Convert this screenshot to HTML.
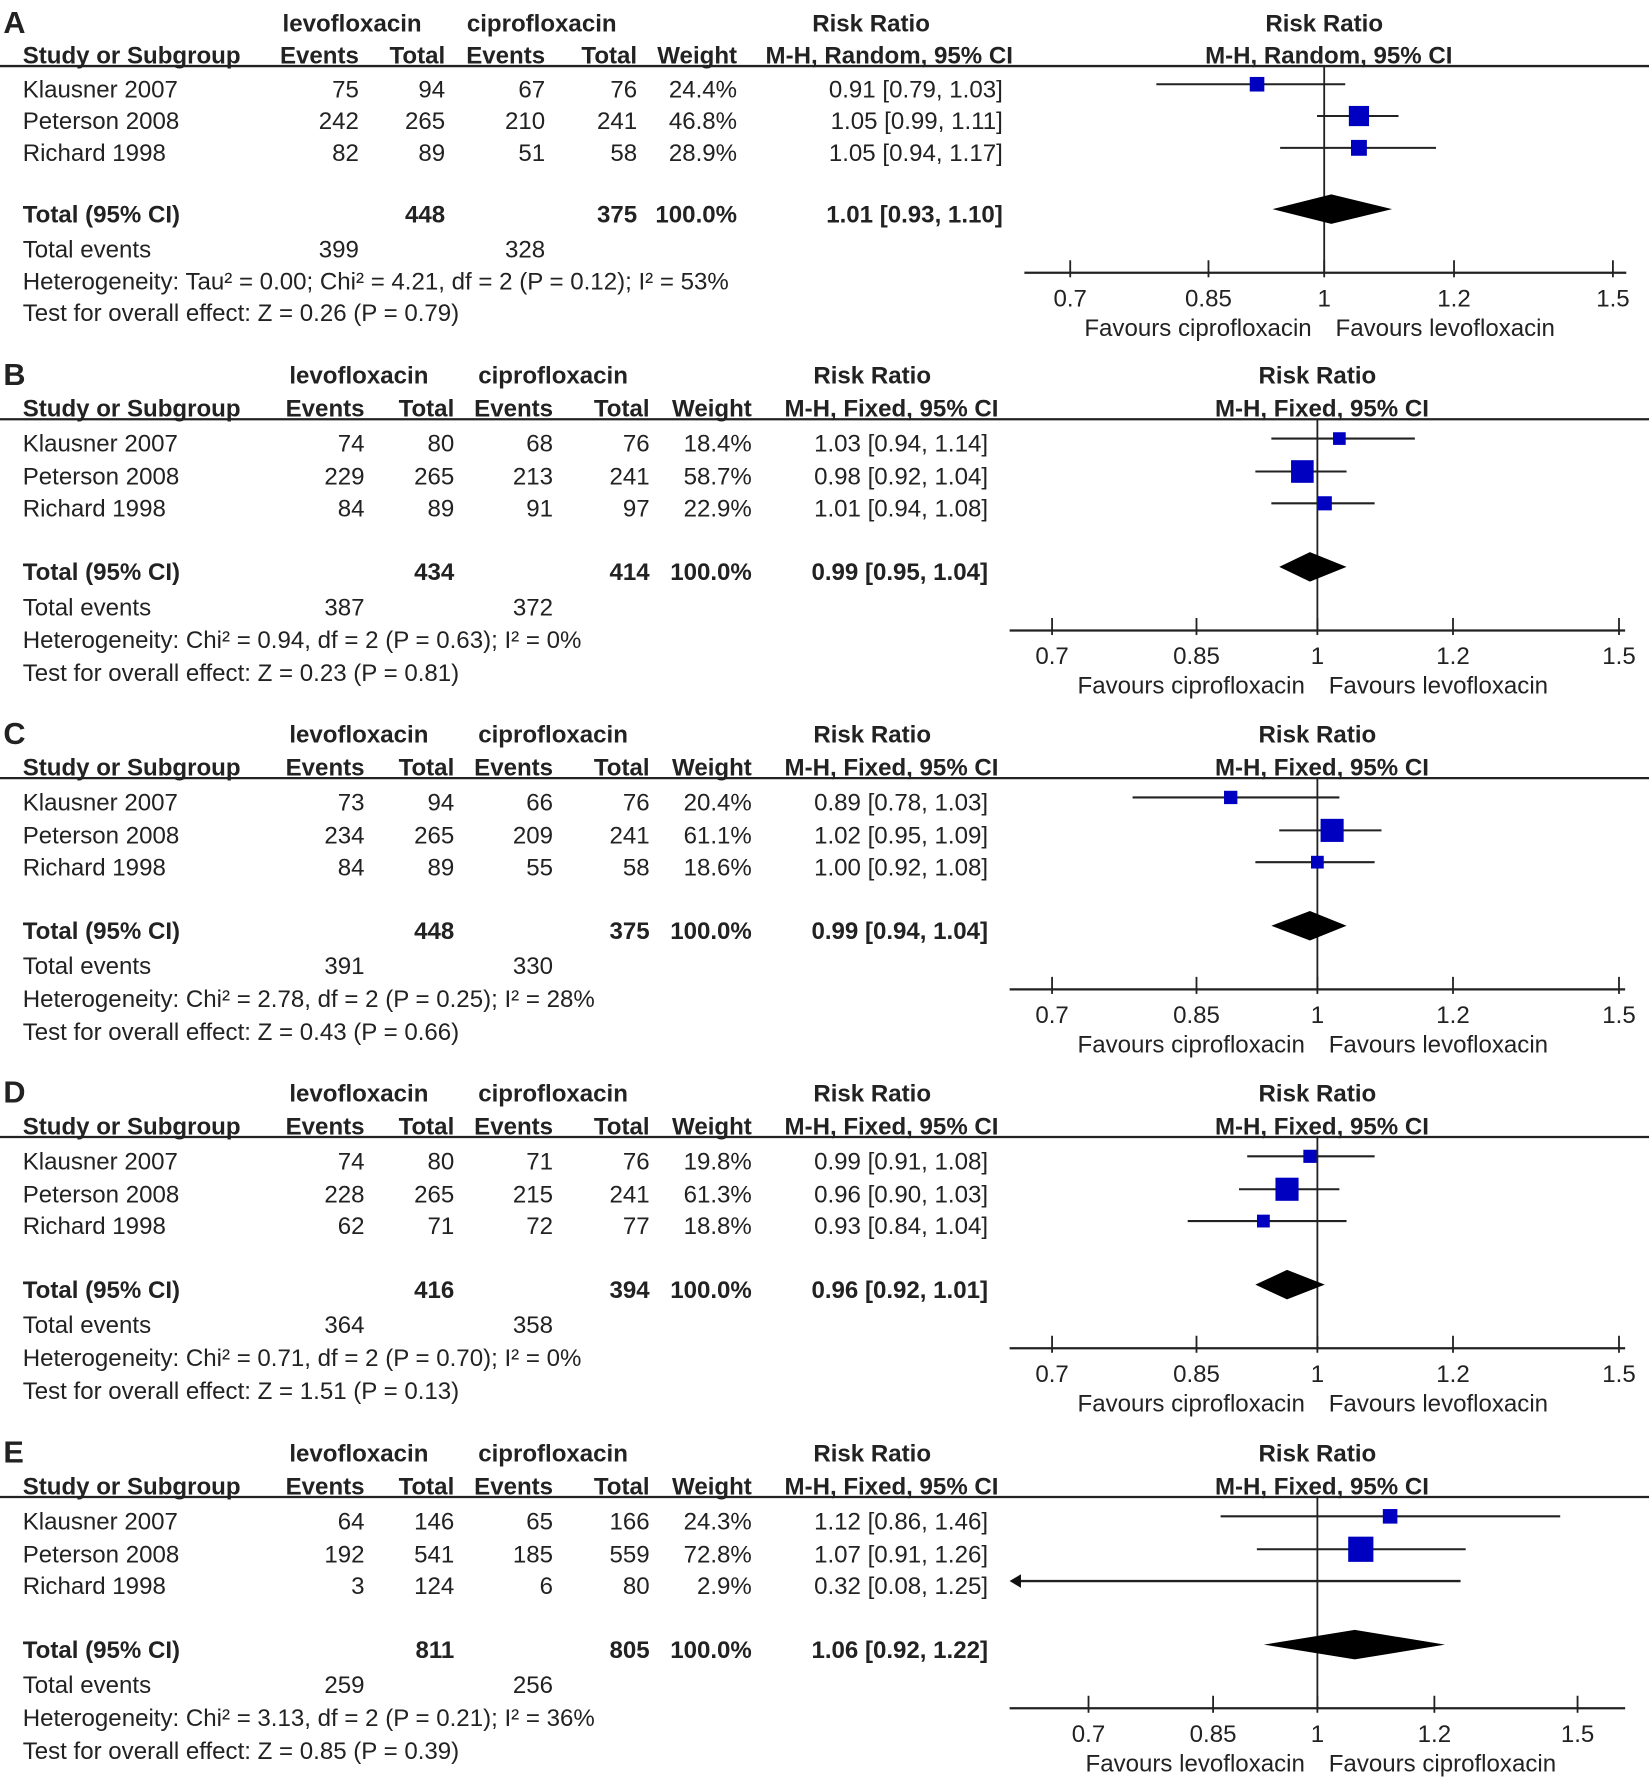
<!DOCTYPE html>
<html><head><meta charset="utf-8"><style>
html,body{margin:0;padding:0;background:#fff;}
svg{display:block;}
text{font-family:"Liberation Sans",Arial,sans-serif;font-size:21.2px;fill:#222;}
.b{font-weight:bold;}
</style></head><body>
<svg id="chart" width="1649" height="1780" viewBox="0 0 1452 1567" xmlns="http://www.w3.org/2000/svg"></svg>
<script>
// ---- data ----
const panelLetters = ["A","B","C","D","E"];
const panelMethods = ["M-H, Random, 95% CI","M-H, Fixed, 95% CI","M-H, Fixed, 95% CI","M-H, Fixed, 95% CI","M-H, Fixed, 95% CI"];
const studyNames = ["Klausner 2007","Peterson 2008","Richard 1998"];
const levoEvents = [[75,242,82],[74,229,84],[73,234,84],[74,228,62],[64,192,3]];
const levoTotals = [[94,265,89],[80,265,89],[94,265,89],[80,265,71],[146,541,124]];
const ciproEvents = [[67,210,51],[68,213,91],[66,209,55],[71,215,72],[65,185,6]];
const ciproTotals = [[76,241,58],[76,241,97],[76,241,58],[76,241,77],[166,559,80]];
const weights = [[24.4,46.8,28.9],[18.4,58.7,22.9],[20.4,61.1,18.6],[19.8,61.3,18.8],[24.3,72.8,2.9]];
const rr = [[0.91,1.05,1.05],[1.03,0.98,1.01],[0.89,1.02,1.00],[0.99,0.96,0.93],[1.12,1.07,0.32]];
const ciLo = [[0.79,0.99,0.94],[0.94,0.92,0.94],[0.78,0.95,0.92],[0.91,0.90,0.84],[0.86,0.91,0.08]];
const ciHi = [[1.03,1.11,1.17],[1.14,1.04,1.08],[1.03,1.09,1.08],[1.08,1.03,1.04],[1.46,1.26,1.25]];
const totalLevo = [448,434,448,416,811];
const totalCipro = [375,414,375,394,805];
const totalRR = [1.01,0.99,0.99,0.96,1.06];
const totalLo = [0.93,0.95,0.94,0.92,0.92];
const totalHi = [1.10,1.04,1.04,1.01,1.22];
const totalEvLevo = [399,387,391,364,259];
const totalEvCipro = [328,372,330,358,256];
const heterogeneity = [
 "Heterogeneity: Tau² = 0.00; Chi² = 4.21, df = 2 (P = 0.12); I² = 53%",
 "Heterogeneity: Chi² = 0.94, df = 2 (P = 0.63); I² = 0%",
 "Heterogeneity: Chi² = 2.78, df = 2 (P = 0.25); I² = 28%",
 "Heterogeneity: Chi² = 0.71, df = 2 (P = 0.70); I² = 0%",
 "Heterogeneity: Chi² = 3.13, df = 2 (P = 0.21); I² = 36%"];
const overall = [
 "Test for overall effect: Z = 0.26 (P = 0.79)",
 "Test for overall effect: Z = 0.23 (P = 0.81)",
 "Test for overall effect: Z = 0.43 (P = 0.66)",
 "Test for overall effect: Z = 1.51 (P = 0.13)",
 "Test for overall effect: Z = 0.85 (P = 0.39)"];
const tickValues = [0.7,0.85,1,1.2,1.5];
const tickLabels = ["0.7","0.85","1","1.2","1.5"];
const favLeft = ["Favours ciprofloxacin","Favours ciprofloxacin","Favours ciprofloxacin","Favours ciprofloxacin","Favours levofloxacin"];
const favRight = ["Favours levofloxacin","Favours levofloxacin","Favours levofloxacin","Favours levofloxacin","Favours ciprofloxacin"];

// ---- layout ----
const NS="http://www.w3.org/2000/svg";
const svg=document.getElementById('chart');
const fmt2=v=>v.toFixed(2);
function mk(tag,attrs,parent){const e=document.createElementNS(NS,tag);for(const k in attrs)e.setAttribute(k,attrs[k]);(parent||svg).appendChild(e);return e;}
function txt(parent,x,y,s,anchor,cls){const t=mk('text',{x:x,y:y,'text-anchor':anchor||'start','dominant-baseline':'central'},parent);if(cls)t.setAttribute('class',cls);t.textContent=s;return t;}

const layouts=[
 {top:21,cx:1166,sc:627,ax0:902,ax1:1432,cols:[316,392,480,561,649,883],ciHead:783,lev:310,cip:477,rr:767,rh:[0,28,58,86,114,168,199,227,255,219,242,268]},
 {top:331,cx:1160,sc:655,ax0:889,ax1:1431,cols:[321,400,487,572,662,870],ciHead:785,lev:316,cip:487,rr:768,rh:[0,29,60,89,117,173,204,233,262,224,247,273]},
 {top:647,cx:1160,sc:655,ax0:889,ax1:1431,cols:[321,400,487,572,662,870],ciHead:785,lev:316,cip:487,rr:768,rh:[0,29,60,89,117,173,204,233,262,224,247,273]},
 {top:963,cx:1160,sc:655,ax0:889,ax1:1431,cols:[321,400,487,572,662,870],ciHead:785,lev:316,cip:487,rr:768,rh:[0,29,60,89,117,173,204,233,262,224,247,273]},
 {top:1280,cx:1160,sc:565,ax0:889,ax1:1431,cols:[321,400,487,572,662,870],ciHead:785,lev:316,cip:487,rr:768,rh:[0,29,60,89,117,173,204,233,262,224,247,273]}
];

for(let p=0;p<5;p++){
 const L=layouts[p]; const T=L.top;
 const Y=i=>T+L.rh[i];
 const g=mk('g',{});
 
 
 const xs=v=>L.cx+Math.log(v)*L.sc;
 let t=txt(g,3,Y(0)-1,panelLetters[p],'start','b'); t.style.fontSize='27px';
  
 txt(g,L.lev,Y(0),'levofloxacin','middle','b');
 txt(g,L.cip,Y(0),'ciprofloxacin','middle','b');
 txt(g,L.rr,Y(0),'Risk Ratio','middle','b');
 t=txt(g,L.cx,Y(0),'Risk Ratio','middle','b');
  
 txt(g,20,Y(1),'Study or Subgroup','start','b');
 const hd=['Events','Total','Events','Total','Weight'];
 for(let c=0;c<5;c++) txt(g,L.cols[c],Y(1),hd[c],'end','b');
 txt(g,L.ciHead,Y(1),panelMethods[p],'middle','b');
 t=txt(g,L.cx+4,Y(1),panelMethods[p],'middle','b');
 mk('line',{x1:0,x2:1452,y1:Y(1)+9,y2:Y(1)+9,stroke:'#222','stroke-width':2},g);
 const axY=Y(9);
 const vl=mk('line',{x1:L.cx,x2:L.cx,y1:Y(1)+9,y2:axY,stroke:'#222','stroke-width':1.6},g);
  
 for(let i=0;i<3;i++){
  const y=Y(2+i);
  const row=mk('g',{},g);
   
  txt(row,20,y,studyNames[i]);
  txt(row,L.cols[0],y,String(levoEvents[p][i]),'end');
  txt(row,L.cols[1],y,String(levoTotals[p][i]),'end');
  txt(row,L.cols[2],y,String(ciproEvents[p][i]),'end');
  txt(row,L.cols[3],y,String(ciproTotals[p][i]),'end');
  txt(row,L.cols[4],y,weights[p][i].toFixed(1)+'%','end');
  txt(row,L.cols[5],y,fmt2(rr[p][i])+' ['+fmt2(ciLo[p][i])+', '+fmt2(ciHi[p][i])+']','end');
  const my=y-5;
  let x1=xs(ciLo[p][i]); const x2=xs(ciHi[p][i]);
  if(x1<L.ax0){
   x1=L.ax0+6;
   const ln=mk('line',{x1:x1,x2:x2,y1:my,y2:my,stroke:'#222','stroke-width':2},row);
    
   const ah=mk('polygon',{points:(L.ax0)+','+my+' '+(L.ax0+10)+','+(my-6)+' '+(L.ax0+10)+','+(my+6),fill:'#111'},row);
    
  } else {
   const ln=mk('line',{x1:x1,x2:x2,y1:my,y2:my,stroke:'#222','stroke-width':1.8},row);
    
  }
  const px=xs(rr[p][i]);
  if(px>=L.ax0 && px<=L.ax1){
   const s=Math.max(7,2.6*Math.sqrt(weights[p][i]));
   const sq=mk('rect',{x:px-s/2,y:my-s/2,width:s,height:s,fill:'#0000c0'},row);
    
  }
 }
 const ty=Y(5);
 txt(g,20,ty,'Total (95% CI)','start','b');
 txt(g,L.cols[1],ty,String(totalLevo[p]),'end','b');
 txt(g,L.cols[3],ty,String(totalCipro[p]),'end','b');
 txt(g,L.cols[4],ty,'100.0%','end','b');
 txt(g,L.cols[5],ty,fmt2(totalRR[p])+' ['+fmt2(totalLo[p])+', '+fmt2(totalHi[p])+']','end','b');
 const dy=ty-5;
 const dm=mk('polygon',{points:xs(totalLo[p])+','+dy+' '+xs(totalRR[p])+','+(dy-13)+' '+xs(totalHi[p])+','+dy+' '+xs(totalRR[p])+','+(dy+13),fill:'#000'},g);
  
 txt(g,20,Y(6),'Total events');
 txt(g,L.cols[0],Y(6),String(totalEvLevo[p]),'end');
 txt(g,L.cols[2],Y(6),String(totalEvCipro[p]),'end');
 txt(g,20,Y(7),heterogeneity[p]);
 txt(g,20,Y(8),overall[p]);
 const ax=mk('g',{},g);
  
 mk('line',{x1:L.ax0,x2:L.ax1,y1:axY,y2:axY,stroke:'#222','stroke-width':2},ax);
 for(let k=0;k<tickValues.length;k++){
  const x=xs(tickValues[k]);
  mk('line',{x1:x,x2:x,y1:axY-11,y2:axY+4,stroke:'#222','stroke-width':1.6},ax);
  const tl=txt(ax,x,Y(10),tickLabels[k],'middle');
   
 }
 const fl=txt(ax,L.cx-11,Y(11),favLeft[p],'end');
  
 const fr=txt(ax,L.cx+10,Y(11),favRight[p],'start');
  
}
</script>
</body></html>
